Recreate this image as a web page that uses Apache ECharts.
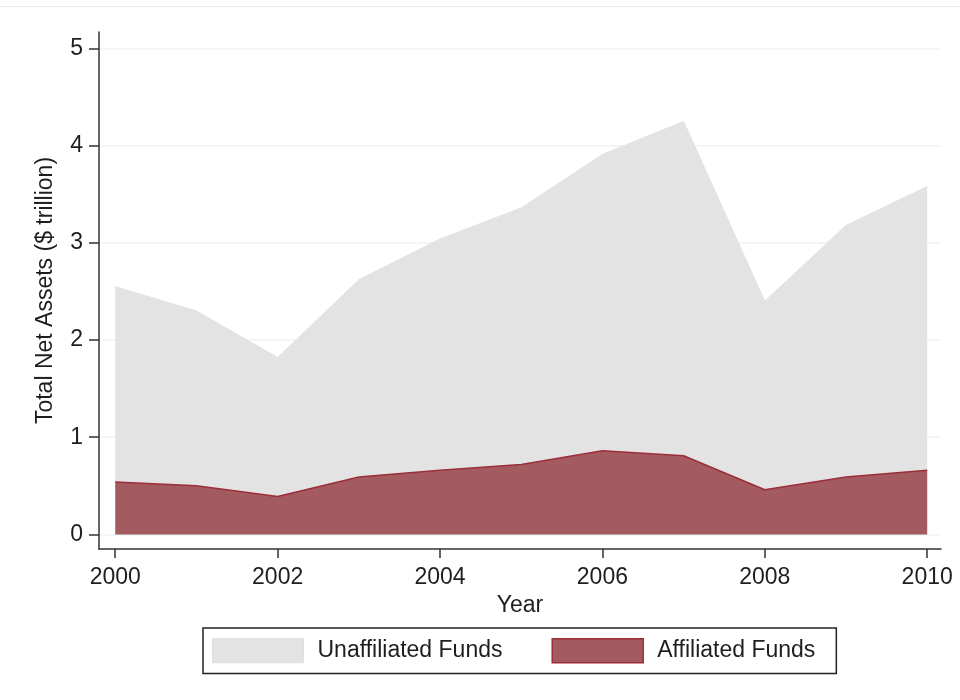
<!DOCTYPE html>
<html>
<head>
<meta charset="utf-8">
<script src="https://cdn.jsdelivr.net/npm/echarts@6/dist/echarts.min.js"></script>
<style>
  html, body { margin: 0; padding: 0; background: #fff; }
  #chart { width: 960px; height: 700px; }
</style>
</head>
<body>
<div id="chart"></div>
<script>
// values ($ trillion)
const years = [2000, 2001, 2002, 2003, 2004, 2005, 2006, 2007, 2008, 2009, 2010];
// top edge of the grey area (all funds)
const unaffiliated = [2.55, 2.30, 1.82, 2.62, 3.04, 3.36, 3.91, 4.25, 2.40, 3.18, 3.58];
const affiliated = [0.54, 0.50, 0.39, 0.59, 0.66, 0.72, 0.86, 0.81, 0.46, 0.59, 0.66];
const xTicks = [2000, 2002, 2004, 2006, 2008, 2010];
const yTicks = [0, 1, 2, 3, 4, 5];

const font = 'Liberation Sans, Arial, sans-serif';
const ink = '#1e1e1e';
const grey = '#e3e3e3';
const red = '#a45b60';
const redEdge = '#9b2e39';

let chart = echarts.init(document.getElementById('chart'), null, { renderer: 'canvas' });

let option = {
  animation: false,
  backgroundColor: '#fff',
  textStyle: { fontFamily: font },
  graphic: [
    {
      type: 'line',
      shape: { x1: 0, y1: 6.5, x2: 960, y2: 6.5 },
      style: { stroke: '#e6edf0', lineWidth: 1 }
    }
  ],
  grid: { left: 99, right: 19, top: 32, bottom: 151 },
  legend: {
    left: 203,
    top: 628,
    orient: 'horizontal',
    padding: [10, 21, 10, 9],
    itemWidth: 91,
    itemHeight: 24,
    itemGap: 49,
    borderColor: '#222',
    borderWidth: 1.5,
    textStyle: { fontSize: 23, color: ink, fontFamily: font, padding: [0, 0, 0, 9] },
    data: [
      { name: 'Unaffiliated Funds', icon: 'rect',
        itemStyle: { color: grey, borderColor: '#dedede', borderWidth: 1 } },
      { name: 'Affiliated Funds', icon: 'rect',
        itemStyle: { color: red, borderColor: redEdge, borderWidth: 1.5 } }
    ]
  },
  xAxis: {
    type: 'value',
    min: 1999.8,
    max: 2010.17,
    name: 'Year',
    nameLocation: 'middle',
    nameGap: 42,
    nameTextStyle: { fontSize: 23, color: ink, fontFamily: font },
    axisLine: { onZero: false, lineStyle: { color: '#333', width: 1.5 } },
    axisTick: { customValues: xTicks, length: 9, lineStyle: { color: '#333', width: 1.5 } },
    axisLabel: { customValues: xTicks, fontSize: 23, color: ink, margin: 17,
                 formatter: v => String(v) },
    splitLine: { show: false }
  },
  yAxis: {
    type: 'value',
    min: -0.15,
    max: 5.17,
    name: 'Total Net Assets ($ trillion)',
    nameLocation: 'middle',
    nameGap: 42,
    nameTextStyle: { fontSize: 23, color: ink, fontFamily: font },
    axisLine: { show: true, lineStyle: { color: '#333', width: 1.5 } },
    axisTick: { show: true, customValues: yTicks, length: 10, lineStyle: { color: '#333', width: 1.5 } },
    axisLabel: { customValues: yTicks, fontSize: 23, color: ink, margin: 16 },
    splitLine: { show: true, lineStyle: { color: '#edf3f5', width: 1.5 } }
  },
  series: [
    {
      name: 'Unaffiliated Funds',
      type: 'line',
      data: years.map((y, i) => [y, unaffiliated[i]]),
      symbol: 'none',
      lineStyle: { color: grey, width: 1 },
      itemStyle: { color: grey },
      areaStyle: { color: grey, opacity: 1, origin: 0 },
      z: 2
    },
    {
      name: 'Affiliated Funds',
      type: 'line',
      data: years.map((y, i) => [y, affiliated[i]]),
      symbol: 'none',
      lineStyle: { color: redEdge, width: 1.5 },
      itemStyle: { color: red },
      areaStyle: { color: red, opacity: 1, origin: 0 },
      z: 3
    }
  ]
};

chart.setOption(option);
</script>
</body>
</html>
